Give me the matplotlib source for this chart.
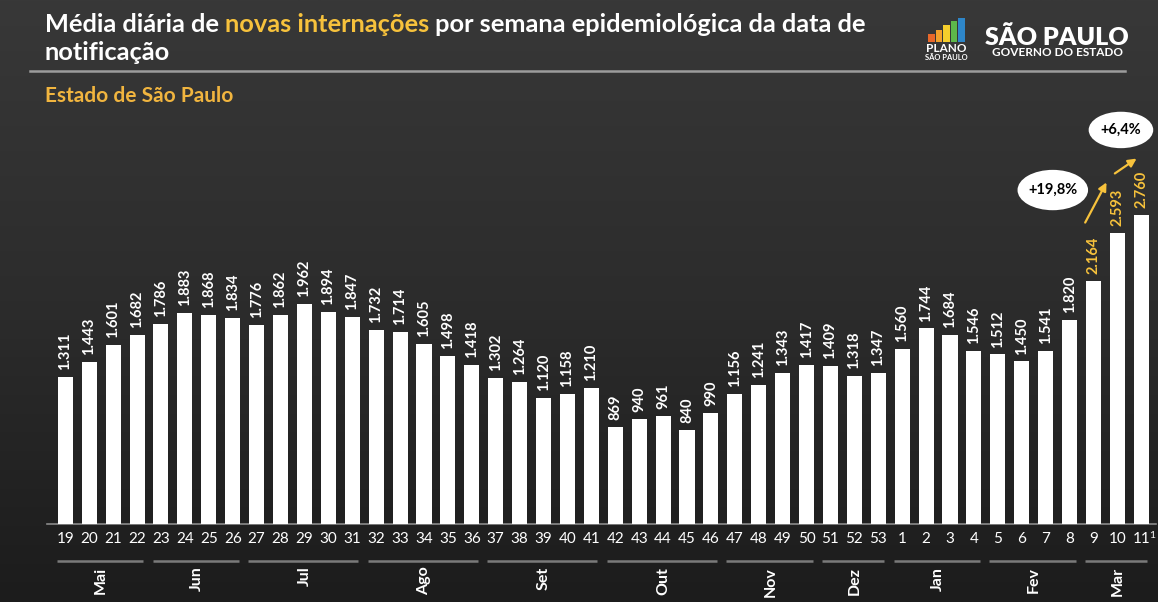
import matplotlib.pyplot as plt
import matplotlib.patches as mpatches
import matplotlib.transforms as mtransforms
import numpy as np

# Weekly data (epidemiological week of notification)
weeks = [str(w) for w in range(19, 54)] + [str(w) for w in range(1, 12)]
values = [1311, 1443, 1601, 1682, 1786, 1883, 1868, 1834, 1776, 1862, 1962, 1894, 1847,
          1732, 1714, 1605, 1498, 1418, 1302, 1264, 1120, 1158, 1210, 869, 940, 961, 840,
          990, 1156, 1241, 1343, 1417, 1409, 1318, 1347, 1560, 1744, 1684, 1546, 1512,
          1450, 1541, 1820, 2164, 2593, 2760]
months = ['Mai', 'Jun', 'Jul', 'Ago', 'Set', 'Out', 'Nov', 'Dez', 'Jan', 'Fev', 'Mar']
month_sizes = [4, 4, 5, 5, 5, 5, 4, 3, 4, 4, 3]
n_highlight = 3  # last weeks with yellow labels
changes = ['+19,8%', '+6,4%']

WHITE = '#FFFFFF'
YELLOW = '#F7C23C'
ORANGE = '#F1B53F'
FONT = 'Lato'

plt.rcParams['font.family'] = [FONT, 'DejaVu Sans']

W, H = 1158, 602
fig = plt.figure(figsize=(W / 100, H / 100), dpi=100)

# background gradient
bg = fig.add_axes([0, 0, 1, 1], zorder=-10)
grad = np.linspace(0, 1, 256)[:, None] * np.ones((1, 2))
bg.imshow(grad, aspect='auto', cmap=plt.matplotlib.colors.LinearSegmentedColormap.from_list(
    'bg', ['#383838', '#2c2c2c', '#1c1c1c']), extent=[0, 1, 0, 1])
bg.set_axis_off()

# main axes, positioned in pixels
left, right, bottom, top = 45, 1158, 78, 60
ax = fig.add_axes([left / W, bottom / H, (right - left) / W, (H - bottom - top) / H])
ax.patch.set_alpha(0)
x = np.arange(len(values))
ax.bar(x, values, width=0.63, color=WHITE, zorder=3)
ax.set_xlim(-0.85, len(values) - 0.3)
ax.set_ylim(0, 4139)

for i, v in enumerate(values):
    lbl = f"{v:,}".replace(",", ".")
    col = YELLOW if i >= len(values) - n_highlight else WHITE
    ax.annotate(lbl, (i, v), xytext=(0, 5), textcoords='offset points',
                rotation=90, ha='center', va='bottom', color=col,
                fontsize=10.5, fontweight='bold')

for s in ['top', 'right', 'left']:
    ax.spines[s].set_visible(False)
ax.spines['bottom'].set_color('#8a8a8a')
ax.spines['bottom'].set_linewidth(1.2)
ax.spines['bottom'].set_bounds(-0.75, len(values) - 0.4)
ax.set_yticks([])
ax.set_xticks(x)
ax.set_xticklabels(weeks, color=WHITE, fontsize=11)
ax.tick_params(axis='x', length=0, pad=6)
ax.annotate('1', (len(values) - 1, 0), xytext=(6, -8), textcoords='offset points',
            color=WHITE, fontsize=7.5, ha='left', va='center', annotation_clip=False)

# month groups
trans = mtransforms.blended_transform_factory(ax.transData, ax.transAxes)
start = 0
for m, n in zip(months, month_sizes):
    ax.plot([start - 0.35, start + n - 0.75], [-0.08, -0.08], transform=trans,
            color='#7a7a7a', lw=1.8, clip_on=False, solid_capstyle='butt')
    ax.text(start + (n - 1) / 2, -0.092, m, transform=trans, rotation=90,
            ha='center', va='top', color=WHITE, fontsize=11.5, fontweight='bold')
    start += n

# percentage change annotations
ax.annotate('', xy=(43.6, 3069), xytext=(42.6, 2667),
            arrowprops=dict(arrowstyle='-|>', color=YELLOW, lw=1.6, mutation_scale=12))
ax.annotate('', xy=(44.9, 3274), xytext=(43.8, 3113),
            arrowprops=dict(arrowstyle='-|>', color=YELLOW, lw=1.6, mutation_scale=12))
for (cx, cy, ew, eh), txt in zip([(41.3, 2979, 2.95, 360), (44.15, 3515, 2.7, 325)], changes):
    ax.add_patch(mpatches.Ellipse((cx, cy), ew, eh, fc='white', ec='none',
                                  clip_on=False, zorder=5))
    ax.text(cx, cy, txt, ha='center', va='center', fontsize=10.5, fontweight='bold',
            color='black', zorder=6)

# title
t1 = fig.text(45 / W, 1 - 32 / H, 'Média diária de ', color=WHITE, fontsize=18.3,
              fontweight='bold', va='baseline')
t2 = fig.text(0, 0, 'novas internações', color=YELLOW, fontsize=18.3, fontweight='bold')
t3 = fig.text(0, 0, ' por semana epidemiológica da data de', color=WHITE, fontsize=18.3,
              fontweight='bold')
fig.canvas.draw()
r = fig.canvas.get_renderer()
bb = t1.get_window_extent(r)
t2.set_position((bb.x1 / W, 1 - 32 / H))
t2.set_va('baseline')
bb = t2.get_window_extent(r)
t3.set_position((bb.x1 / W, 1 - 32 / H))
t3.set_va('baseline')
fig.text(45 / W, 1 - 60 / H, 'notificação', color=WHITE, fontsize=18.3,
         fontweight='bold', va='baseline')
fig.add_artist(plt.Line2D([30 / W, 1125 / W], [1 - 71 / H, 1 - 71 / H],
                          color='#9c9c9c', lw=1.8))
fig.text(45 / W, 1 - 102 / H, 'Estado de São Paulo', color=ORANGE, fontsize=15,
         fontweight='bold', va='baseline')

# logos
logo_cols = ['#E8682A', '#F2A12B', '#F5CE2C', '#5DB84A', '#2E86C8']
logo_h = [8, 12, 17, 21, 24]
for i, (c, h) in enumerate(zip(logo_cols, logo_h)):
    fig.add_artist(mpatches.Rectangle(((928 + i * 7.5) / W, 1 - 42 / H), 6.5 / W, h / H,
                                      color=c, lw=0))
fig.text(946 / W, 1 - 52 / H, 'PLANO', color=WHITE, fontsize=8.5, fontweight='bold',
         ha='center', va='baseline')
fig.text(946 / W, 1 - 60 / H, 'SÃO PAULO', color=WHITE, fontsize=5.5, fontweight='bold',
         ha='center', va='baseline')
fig.text(1057 / W, 1 - 45 / H, 'SÃO PAULO', color=WHITE, fontsize=18, fontweight='heavy',
         ha='center', va='baseline')
fig.text(1057 / W, 1 - 56 / H, 'GOVERNO DO ESTADO', color=WHITE, fontsize=8.5,
         fontweight='bold', ha='center', va='baseline')

fig.savefig('out.png', dpi=100)
